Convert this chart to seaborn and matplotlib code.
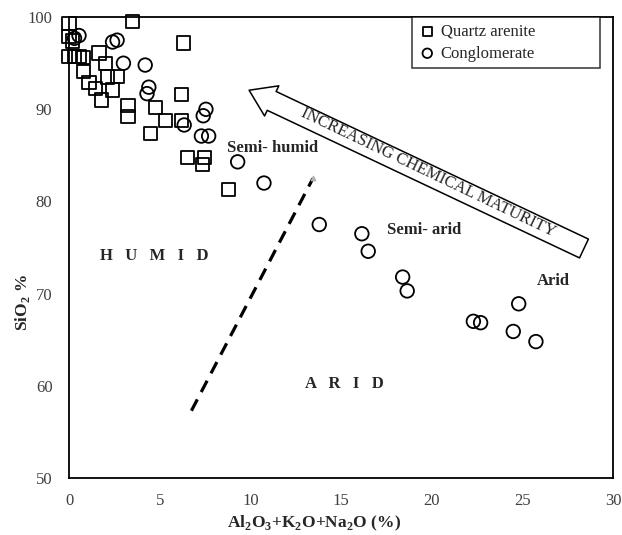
import matplotlib
matplotlib.use("Agg")
import matplotlib.pyplot as plt
import seaborn as sns
import pandas as pd
from matplotlib.patches import FancyArrowPatch

# ---------------- data ----------------
qa_x = [0.0, 0.0, 0.2, 3.5, 6.3, 0.0, 0.3, 0.55, 0.8, 1.65, 2.0, 0.8, 2.1, 2.65,
        1.1, 1.45, 2.4, 1.8, 3.25, 3.25, 4.75, 6.2, 5.3, 4.5, 6.2, 6.55, 7.45, 7.35, 8.8]
qa_y = [99.3, 97.9, 97.4, 99.5, 97.2, 95.7, 95.7, 95.7, 95.6, 96.1, 95.0, 94.1, 93.5, 93.6,
        92.9, 92.3, 92.1, 91.0, 90.4, 89.2, 90.2, 91.6, 88.8, 87.4, 88.8, 84.8, 84.8, 84.0, 81.3]

cg_x = [0.55, 0.3, 2.4, 2.65, 3.0, 4.2, 4.4, 4.3, 6.35, 7.55, 7.4, 7.3, 7.7, 9.3, 10.75,
        13.8, 16.15, 16.5, 18.4, 18.65, 22.3, 22.7, 24.8, 24.5, 25.75]
cg_y = [98.0, 97.7, 97.3, 97.5, 95.0, 94.8, 92.4, 91.7, 88.3, 90.0, 89.3, 87.1, 87.1, 84.3, 82.0,
        77.5, 76.5, 74.6, 71.8, 70.3, 67.0, 66.85, 68.9, 65.9, 64.8]

series_names = ["Quartz arenite", "Conglomerate"]

divider_x = [6.75, 13.45]
divider_y = [57.3, 82.5]

arrow_tail = (28.4, 74.9)
arrow_tip = (9.93, 92.07)
arrow_label = "INCREASING CHEMICAL MATURITY"

region_labels = ["Semi- humid", "Semi- arid", "Arid", "H   U   M   I   D", "A   R   I   D"]
region_x = [8.71, 17.54, 25.8, 1.71, 13.0]
region_y = [85.76, 76.96, 71.4, 74.1, 60.2]

x_ticks = [0, 5, 10, 15, 20, 25, 30]
y_ticks = [50, 60, 70, 80, 90, 100]

# ---------------- style ----------------
sns.set_style("white")
plt.rcParams["font.family"] = ["Liberation Serif", "DejaVu Serif"]
plt.rcParams["mathtext.fontset"] = "custom"
plt.rcParams["mathtext.rm"] = "Liberation Serif"
plt.rcParams["mathtext.bf"] = "Liberation Serif:bold"

fig = plt.figure(figsize=(6.22, 5.35), dpi=100)
ax = fig.add_axes([0.111, 0.1065, 0.8745, 0.8615])

df_qa = pd.DataFrame({"x": qa_x, "y": qa_y})
df_cg = pd.DataFrame({"x": cg_x, "y": cg_y})

sns.scatterplot(data=df_qa, x="x", y="y", marker="s", s=90, color="black",
                facecolor="none", edgecolor="black", linewidth=1.3,
                label=series_names[0], ax=ax, zorder=3, clip_on=False)
sns.scatterplot(data=df_cg, x="x", y="y", marker="o", s=95, color="black",
                facecolor="none", edgecolor="black", linewidth=1.3,
                label=series_names[1], ax=ax, zorder=3, clip_on=False)

# dashed divider
sns.lineplot(x=divider_x, y=divider_y, sort=False, estimator=None, color="black",
             linewidth=2.3, dashes=False, ax=ax, legend=False)
ax.lines[-1].set_dashes((4, 2.6))
ax.scatter([divider_x[1]], [divider_y[1]], marker="^", s=10, color="#b0b0b0", zorder=2)

# big hollow arrow
arr = FancyArrowPatch(posA=arrow_tail, posB=arrow_tip,
                      arrowstyle="simple,head_length=1.8,head_width=2.4,tail_width=1.5",
                      mutation_scale=10, shrinkA=0, shrinkB=0,
                      facecolor="white", edgecolor="black", linewidth=1.1, zorder=4)
ax.add_patch(arr)
ax.text(19.83, 83.1, arrow_label, rotation=-25.5, rotation_mode="anchor",
        ha="center", va="center", fontsize=12, zorder=5)

for lab, tx, ty in zip(region_labels, region_x, region_y):
    ax.text(tx, ty, lab, ha="left", va="center", fontsize=12, fontweight="bold")

ax.set_xlim(0, 30)
ax.set_ylim(50, 100)
ax.set_xticks(x_ticks)
ax.set_yticks(y_ticks)
ax.tick_params(axis="both", direction="out", length=6, width=1.2, colors="black",
               labelcolor="#404040", labelsize=12)
ax.tick_params(axis="x", pad=5)
ax.tick_params(axis="y", pad=6)
for sp in ax.spines.values():
    sp.set_visible(True)
    sp.set_color("black")
    sp.set_linewidth(1.3)

ax.set_xlabel(r"Al$_\mathbf{2}$O$_\mathbf{3}$+K$_\mathbf{2}$O+Na$_\mathbf{2}$O (%)",
              fontsize=12.5, fontweight="bold")
ax.set_ylabel(r"SiO$_\mathbf{2}$ %", fontsize=12.5, fontweight="bold")
ax.xaxis.set_label_coords(0.45, -0.078)
ax.yaxis.set_label_coords(-0.068, 0.38)

leg = ax.legend(loc="upper left", bbox_to_anchor=(0.631, 0.872, 0.345, 0.128),
                mode="expand", borderaxespad=0, fancybox=False, frameon=True,
                edgecolor="black", fontsize=12, markerscale=0.7,
                handletextpad=0.3, handlelength=1.0, labelspacing=0.35,
                borderpad=0.4)
leg.get_frame().set_linewidth(1.1)
leg.set_zorder(6)

fig.savefig("out.png", dpi=100)
